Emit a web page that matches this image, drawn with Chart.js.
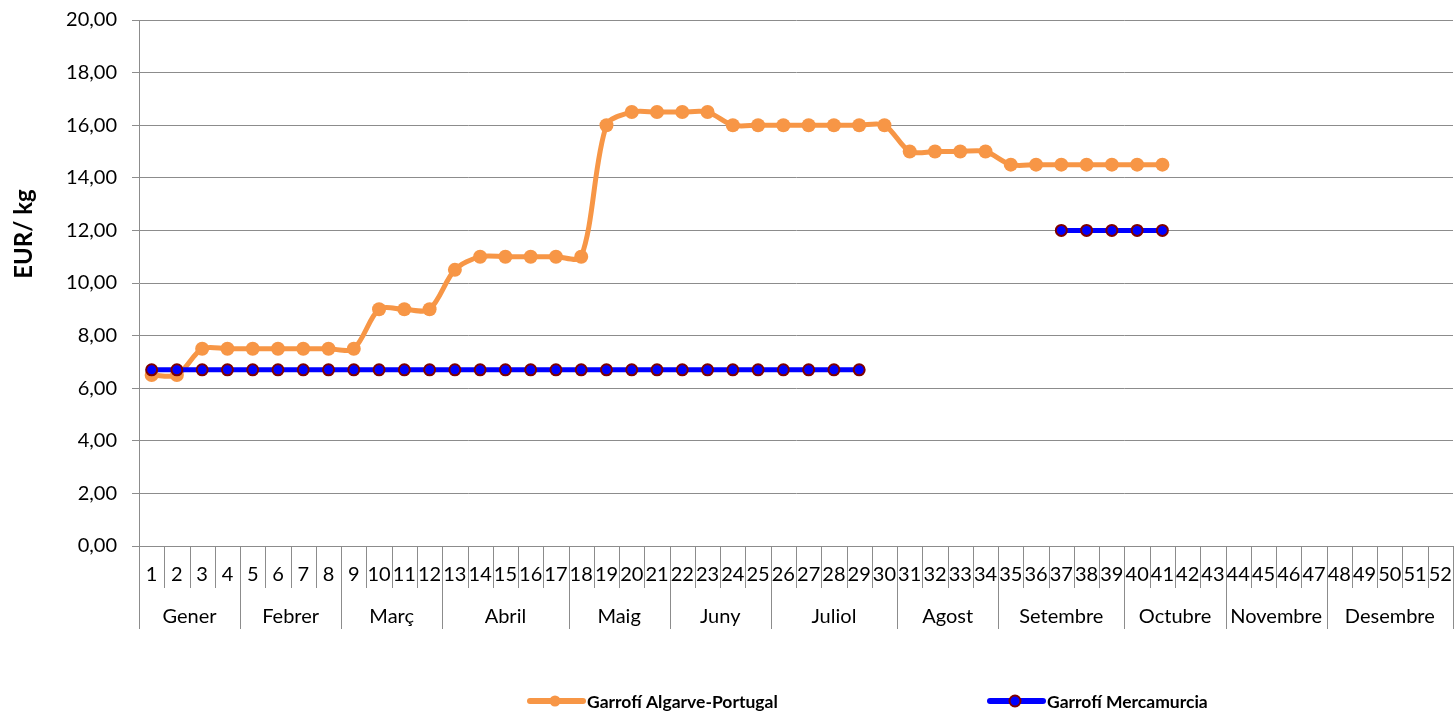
<!DOCTYPE html>
<html>
<head>
<meta charset="utf-8">
<script src="https://cdn.jsdelivr.net/npm/chart.js@4"></script>
<style>
    html, body { margin: 0; padding: 0; background: #fff; }
    #wrap { width: 1454px; height: 711px; }
</style>
</head>
<body>
<div id="wrap"><canvas id="priceChart" width="1454" height="711"></canvas></div>
<script>
// Data
const WEEKS = ['1','2','3','4','5','6','7','8','9','10','11','12','13','14','15','16','17','18','19','20',
    '21','22','23','24','25','26','27','28','29','30','31','32','33','34','35','36','37','38','39','40',
    '41','42','43','44','45','46','47','48','49','50','51','52'];
const MONTHS = ['Gener','Febrer','Març','Abril','Maig','Juny','Juliol','Agost','Setembre','Octubre','Novembre','Desembre'];
const MONTH_WEEKS = [4, 4, 4, 5, 4, 4, 5, 4, 5, 4, 4, 5]; // weeks per month group
const ALGARVE = [6.5, 6.5, 7.5, 7.5, 7.5, 7.5, 7.5, 7.5, 7.5, 9, 9, 9, 10.5, 11, 11, 11, 11, 11, 16, 16.5,
    16.5, 16.5, 16.5, 16, 16, 16, 16, 16, 16, 16, 15, 15, 15, 15, 14.5, 14.5, 14.5, 14.5, 14.5, 14.5, 14.5];
const MERCAMURCIA = [6.7, 6.7, 6.7, 6.7, 6.7, 6.7, 6.7, 6.7, 6.7, 6.7, 6.7, 6.7, 6.7, 6.7, 6.7, 6.7, 6.7, 6.7, 6.7, 6.7,
    6.7, 6.7, 6.7, 6.7, 6.7, 6.7, 6.7, 6.7, 6.7, null, null, null, null, null, null, null, 12, 12, 12, 12, 12];
const SERIES_NAMES = ['Garrofí Algarve-Portugal', 'Garrofí Mercamurcia'];
const Y_TITLE = 'EUR/ kg';

const FONT = 'Lato, "Open Sans", sans-serif';
const GRID = '#8c8c8c';
const ORANGE = '#f79646';
const BLUE = '#0000ff';
const DARKRED = '#7f0000';

// Draws week separators, month row, y title and the legend
const tablePlugin = {
    id: 'tablePlugin',
    afterDraw(chart) {
        const ctx = chart.ctx;
        const x = chart.scales.x;
        const area = chart.chartArea;
        const half = (x.getPixelForValue(1) - x.getPixelForValue(0)) / 2;
        const edge = i => (i < WEEKS.length ? x.getPixelForValue(i) - half : x.getPixelForValue(WEEKS.length - 1) + half);

        const monthEdges = [0];
        MONTH_WEEKS.forEach(n => monthEdges.push(monthEdges[monthEdges.length - 1] + n));

        ctx.save();
        ctx.strokeStyle = GRID;
        ctx.lineWidth = 1;
        for (let i = 0; i <= WEEKS.length; i++) {
            const px = Math.round(edge(i)) + 0.5;
            const long = monthEdges.includes(i);
            ctx.beginPath();
            ctx.moveTo(px, area.bottom);
            ctx.lineTo(px, area.bottom + (long ? 83 : 42));
            ctx.stroke();
        }

        ctx.fillStyle = '#000';
        ctx.font = '20px ' + FONT;
        ctx.textAlign = 'center';
        ctx.textBaseline = 'middle';
        MONTHS.forEach((m, k) => {
            const cx = (edge(monthEdges[k]) + edge(monthEdges[k + 1])) / 2;
            ctx.fillText(m, cx, area.bottom + 71);
        });

        // y axis title
        ctx.save();
        ctx.translate(24, 234);
        ctx.rotate(-Math.PI / 2);
        ctx.font = 'bold 24px ' + FONT;
        ctx.fillText(Y_TITLE, 0, 0);
        ctx.restore();

        // legend
        const items = [
            { x: 527, color: ORANGE, border: ORANGE, r: 4.5 },
            { x: 987, color: BLUE, border: DARKRED, r: 5.5 }
        ];
        const ly = 701;
        ctx.font = 'bold 17.5px ' + FONT;
        ctx.textAlign = 'left';
        items.forEach((it, k) => {
            ctx.strokeStyle = it.color;
            ctx.lineWidth = 6;
            ctx.lineCap = 'round';
            ctx.beginPath();
            ctx.moveTo(it.x + 3, ly);
            ctx.lineTo(it.x + 56, ly);
            ctx.stroke();
            ctx.beginPath();
            ctx.arc(it.x + 28, ly, it.r, 0, Math.PI * 2);
            ctx.fillStyle = it.color;
            ctx.fill();
            ctx.lineWidth = 2;
            ctx.strokeStyle = it.border;
            ctx.stroke();
            ctx.fillStyle = '#000';
            ctx.fillText(SERIES_NAMES[k], it.x + 60, ly + 1);
        });
        ctx.restore();
    }
};

const ctx = document.getElementById('priceChart').getContext('2d');
new Chart(ctx, {
    type: 'line',
    data: {
        labels: WEEKS,
        datasets: [
            {
                label: SERIES_NAMES[0],
                data: ALGARVE,
                borderColor: ORANGE,
                backgroundColor: ORANGE,
                borderWidth: 5,
                pointRadius: 7,
                pointBorderWidth: 0,
                tension: 0.3,
                order: 2
            },
            {
                label: SERIES_NAMES[1],
                data: MERCAMURCIA,
                borderColor: BLUE,
                backgroundColor: BLUE,
                borderWidth: 5,
                pointRadius: 5.5,
                pointBorderColor: DARKRED,
                pointBorderWidth: 2,
                pointBackgroundColor: BLUE,
                tension: 0,
                spanGaps: false,
                order: 1
            }
        ]
    },
    options: {
        responsive: false,
        animation: false,
        layout: { autoPadding: false, padding: { top: 20, right: 1, left: 0, bottom: 0 } },
        plugins: {
            legend: { display: false },
            tooltip: { enabled: false }
        },
        scales: {
            x: {
                offset: true,
                grid: { display: false, drawTicks: false },
                border: { display: true, color: GRID, width: 1 },
                ticks: {
                    color: '#000',
                    font: { family: FONT, size: 20 },
                    padding: 17,
                    maxRotation: 0,
                    autoSkip: false
                },
                afterFit(scale) {
                    scale.height = 165;
                    scale.paddingLeft = 0;
                    scale.paddingRight = 0;
                }
            },
            y: {
                min: 0,
                max: 20,
                ticks: {
                    stepSize: 2,
                    color: '#000',
                    font: { family: FONT, size: 20 },
                    padding: 15,
                    callback: v => v.toFixed(2).replace('.', ',')
                },
                grid: { color: GRID, tickLength: 7, lineWidth: 1 },
                border: { display: true, color: GRID, width: 1 },
                afterFit(scale) {
                    scale.width = 139;
                    scale.paddingTop = 0;
                    scale.paddingBottom = 0;
                }
            }
        }
    },
    plugins: [tablePlugin]
});
</script>
</body>
</html>
